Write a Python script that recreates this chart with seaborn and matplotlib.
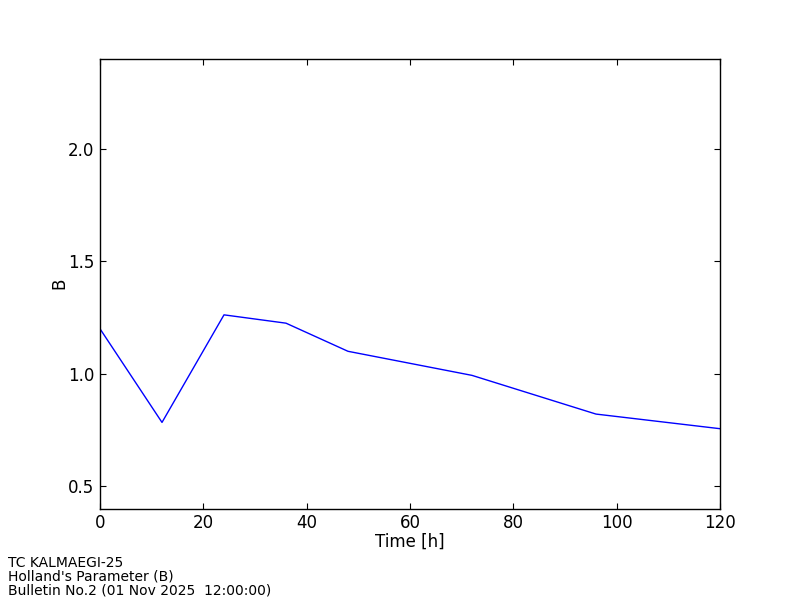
import matplotlib
matplotlib.use("Agg")
import matplotlib.pyplot as plt
import seaborn as sns
import pandas as pd

time_h = [0, 12, 24, 36, 48, 72, 96, 120]
b_values = [1.20, 0.784, 1.262, 1.225, 1.10, 0.993, 0.821, 0.756]
footer_lines = ["TC KALMAEGI-25", "Holland's Parameter (B)", "Bulletin No.2 (01 Nov 2025  12:00:00)"]

sns.set_style("white")
plt.rcParams.update({
    "font.family": ["DejaVu Sans"],
    "font.size": 12,
    "xtick.direction": "in",
    "ytick.direction": "in",
    "xtick.top": True,
    "ytick.right": True,
    "xtick.major.size": 4,
    "ytick.major.size": 4,
    "xtick.bottom": True,
    "ytick.left": True,
    "axes.edgecolor": "black",
    "axes.linewidth": 1.0,
    "xtick.color": "black",
    "ytick.color": "black",
    "axes.labelcolor": "black",
    "text.color": "black",
})

df = pd.DataFrame({"Time [h]": time_h, "B": b_values})

fig = plt.figure(figsize=(8, 6), dpi=100)
ax = fig.add_axes([0.125, 0.152, 0.775, 0.75])
sns.lineplot(data=df, x="Time [h]", y="B", ax=ax, color="#0000ff", linewidth=1.0)
ax.set_xlim(0, 120)
ax.set_ylim(0.4, 2.4)
ax.set_xticks([0, 20, 40, 60, 80, 100, 120])
ax.set_yticks([0.5, 1.0, 1.5, 2.0])
ax.set_yticklabels(["0.5", "1.0", "1.5", "2.0"])
ax.tick_params(labelsize=12, pad=4)
ax.set_xlabel("Time [h]", fontsize=12, labelpad=0)
ax.set_ylabel("B", fontsize=12, labelpad=0)
for s in ax.spines.values():
    s.set_visible(True)

fig.text(0.01, 0.005, "\n".join(footer_lines), fontsize=10, ha="left", va="bottom", linespacing=0.95)

fig.savefig("out.png", dpi=100, facecolor="white")
